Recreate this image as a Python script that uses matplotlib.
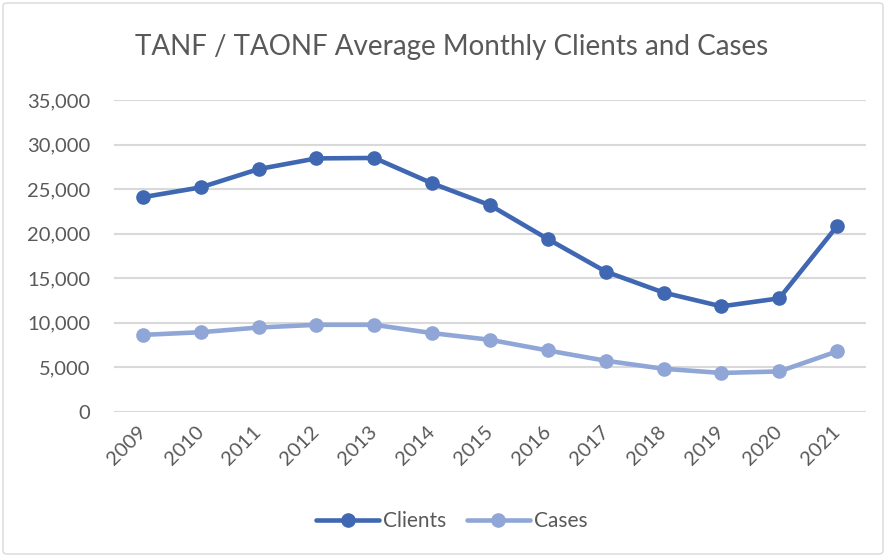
import matplotlib
matplotlib.use("Agg")
import matplotlib.pyplot as plt
from matplotlib.patches import FancyBboxPatch
from matplotlib.ticker import FuncFormatter, MultipleLocator

years = ["2009", "2010", "2011", "2012", "2013", "2014", "2015",
         "2016", "2017", "2018", "2019", "2020", "2021"]
clients = [24100, 25200, 27250, 28450, 28500, 25650, 23200,
           19400, 15750, 13400, 11850, 12750, 20850]
cases = [8650, 8950, 9480, 9780, 9780, 8850, 8100,
         6900, 5750, 4850, 4380, 4550, 6800]

plt.rcParams['font.family'] = ['Lato', 'DejaVu Sans']

fig = plt.figure(figsize=(8.86, 5.57), dpi=100)
ax = fig.add_axes([114/886, 1-412/557, (866-114)/886, (412-100)/557])

x = list(range(len(years)))
ax.plot(x, clients, color='#4068B2', lw=3.3, marker='o', ms=9.5, label='Clients',
        solid_capstyle='round', zorder=3)
ax.plot(x, cases, color='#8FA6D6', lw=3.3, marker='o', ms=9.5, label='Cases',
        solid_capstyle='round', zorder=3)

ax.set_xlim(-0.5, len(years) - 0.5)
ax.set_ylim(0, 35000)
ax.yaxis.set_major_locator(MultipleLocator(5000))
ax.yaxis.set_major_formatter(FuncFormatter(lambda v, p: f"{int(v):,}"))
ax.grid(axis='y', color='#D9D9D9', lw=1.5)
ax.set_axisbelow(True)
for s in ax.spines.values():
    s.set_visible(False)
ax.tick_params(axis='both', length=0, colors='#595959', labelsize=14.5)
ax.tick_params(axis='y', pad=17)
ax.set_xticks(x)
ax.set_xticklabels(years, rotation=45, ha='right', va='center',
                   rotation_mode='anchor')
ax.tick_params(axis='x', pad=12)

fig.text(452/886, 1-47/557, "TANF / TAONF Average Monthly Clients and Cases",
         ha='center', va='center', fontsize=20, color='#595959')

leg = fig.legend(loc='center', bbox_to_anchor=(452/886, 1-521/557), ncol=2,
                 frameon=False, fontsize=15, handlelength=3.0,
                 columnspacing=1.0, handletextpad=0.2)
for t in leg.get_texts():
    t.set_color('#595959')

border = FancyBboxPatch((3/886, 3/557), 880/886, 551/557,
                        boxstyle="round,pad=0,rounding_size=0.005",
                        transform=fig.transFigure, fill=False,
                        edgecolor='#D9D9D9', lw=1)
fig.patches.append(border)

fig.savefig("out.png", dpi=100)
